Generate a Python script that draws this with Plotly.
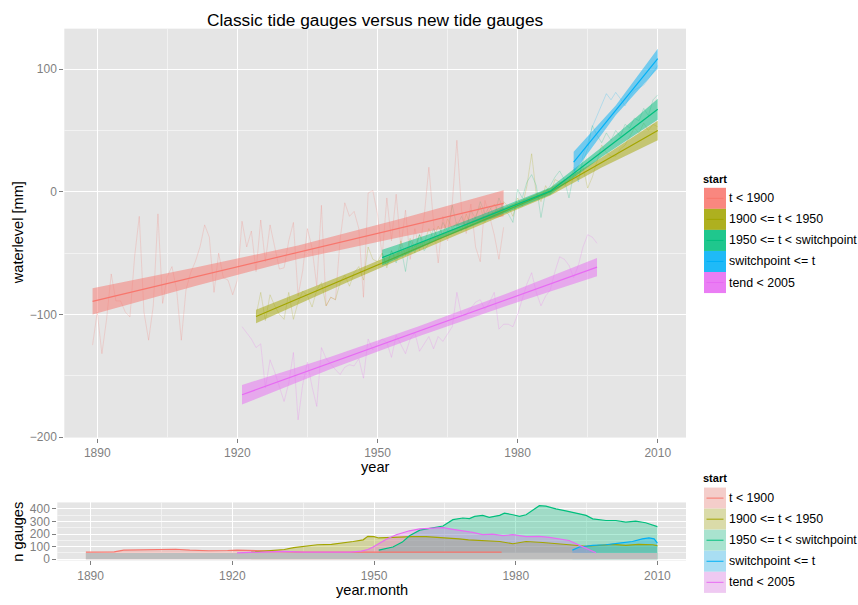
import plotly.graph_objects as go

# ---------------------------------------------------------------- data
categories = ["t < 1900", "1900 <= t < 1950", "1950 <= t < switchpoint",
              "switchpoint <= t", "tend < 2005"]
colors = ["#F8766D", "#A3A500", "#00BF7D", "#00B0F6", "#E76BF3"]

# annual mean water level per group [mm]
red_years = list(range(1889, 1978))
red_level = [-125, -98, -132, -104, -67, -89, -89, -98, -102, -53,
             -20, -98, -121, -93, -18, -91, -69, -61, -80, -121,
             -80, -66, -57, -45, -27, -37, -82, -50, -70, -72,
             -84, -72, -24, -45, -32, -65, -23, -57, -27, -45,
             -63, -62, -40, -25, -85, -64, -30, -46, -77, -11,
             -93, -86, -88, -39, -9, -20, -16, -30, -86, -1,
             1, -18, -53, -5, -40, -2, -45, -15, -55, -30,
             -48, -20, 20, -25, -58, -20, -40, -10, 42, -15,
             -34, -10, -45, -57, -7, -20, -35, -55, -29]

olive_years = list(range(1924, 2011))
olive_level = [-101, -82, -105, -84, -93, -100, -104, -82, -104, -90,
               -81, -85, -94, -80, -74, -93, -86, -88, -74, -68,
               -77, -66, -61, -72, -45, -55, -57, -50, -62, -48,
               -55, -40, -52, -38, -45, -35, -42, -30, -38, -28,
               -35, -22, -30, -25, -32, -18, -28, -20, -12, -25,
               -15, -10, -18, -8, -12, -20, -5, -12, 5, 31,
               -2, -8, 5, -2, 10, 8, 5, 9, 18, 15,
               20, 3, 12, 25, 38, 32, 29, 29, 35, 38,
               45, 52, 48, 56, 50, 55, 53]

green_years = list(range(1951, 2011))
green_level = [-50, -60, -48, -58, -45, -65, -40, -50, -35, -48,
               -42, -30, -38, -25, -32, -11, -28, -20, -30, -15,
               -22, -8, -18, -12, -20, -5, -15, -18, -25, 2,
               -5, 8, 14, 5, -21, 0, 5, 12, 17, 10,
               -5, 15, 10, 25, 35, 54, 46, 40, 48, 42,
               50, 45, 55, 52, 60, 58, 68, 62, 75, 79]

cyan_years = list(range(1992, 2011))
cyan_level = [20, 8, 30, 40, 53, 62, 70, 80, 75, 81,
              76, 70, 78, 83, 85, 87, 92, 97, 103]

magenta_years = list(range(1921, 1998))
magenta_level = [-110, -115, -120, -127, -124, -160, -137, -147, -160, -171,
                 -156, -131, -186, -157, -139, -159, -175, -127, -136, -141,
                 -145, -149, -143, -141, -142, -136, -152, -120, -129, -124,
                 -120, -123, -135, -117, -125, -132, -120, -115, -130, -124,
                 -118, -128, -118, -122, -116, -110, -82, -101, -100, -95,
                 -90, -88, -96, -90, -82, -112, -108, -108, -110, -100,
                 -88, -75, -66, -82, -93, -85, -80, -65, -53, -55,
                 -60, -70, -60, -45, -35, -37, -42]

# fitted trend with confidence band [mm]
red_fit_years = [1889, 1911, 1933, 1955, 1977]
red_fit = [-89.3, -69.3, -49.3, -29.4, -9.4]
red_lo = [-100.0, -76.8, -54.8, -36.9, -20.0]
red_hi = [-78.6, -61.8, -43.8, -21.9, 1.2]

olive_fit_years = [1924, 1945, 1966, 1987, 1998, 2010]
olive_fit = [-101.7, -67.8, -33.8, 0.0, 23.9, 50.0]
olive_lo = [-107.2, -71.3, -36.8, -3.0, 19.9, 42.0]
olive_hi = [-96.2, -64.3, -30.8, 3.0, 27.9, 58.0]

green_fit_years = [1951, 1963, 1975, 1987, 1998, 2010]
green_fit = [-53.7, -35.7, -17.6, 0.5, 32.4, 67.3]
green_lo = [-60.2, -39.2, -20.6, -2.5, 28.4, 58.8]
green_hi = [-47.2, -32.2, -14.6, 3.5, 36.4, 75.8]

cyan_fit_years = [1992, 2001, 2010]
cyan_fit = [24.1, 66.3, 108.6]
cyan_lo = [15.6, 62.3, 100.6]
cyan_hi = [32.6, 70.3, 116.6]

magenta_fit_years = [1921, 1940, 1959, 1978, 1997]
magenta_fit = [-165.5, -139.5, -113.5, -87.5, -61.4]
magenta_lo = [-173.5, -144.5, -117.5, -92.5, -68.9]
magenta_hi = [-157.5, -134.5, -109.5, -82.5, -53.9]

# number of gauges per group
red_n_years = [1889, 1895, 1897, 1903, 1908, 1911, 1915, 1919, 1921, 1925,
               1930, 1935, 1945, 1955, 1965, 1977]
red_n = [56, 59, 72, 79, 79, 72, 67, 69, 72, 68, 60, 56, 56, 56, 56, 56]

olive_n_years = [1924, 1928, 1931, 1933, 1936, 1938, 1941, 1943.5, 1945.6, 1947.7,
                 1948.7, 1950, 1951, 1954, 1956, 1958, 1961, 1964.6, 1968, 1970,
                 1973.7, 1976.6, 1979.4, 1982.2, 1985.7, 1989.2, 1992, 1995, 1997.7,
                 2000.5, 2003.3, 2006, 2009, 2010]
olive_n = [56, 67, 77, 92, 103, 115, 118, 128, 141, 154,
           182, 179, 169, 174, 179, 179, 179, 172, 162, 154,
           149, 141, 123, 141, 133, 123, 115, 103, 110,
           118, 110, 118, 115, 108]

green_n_years = [1951, 1954, 1956, 1957.5, 1959.7, 1961.8, 1964.6, 1966.7, 1968.8, 1970.2,
                 1971.3, 1973, 1974.4, 1976.6, 1977.6, 1979.4, 1980.8, 1982.2, 1983.6, 1985,
                 1986.4, 1988.5, 1990.6, 1992.8, 1994.9, 1996.3, 1999.1, 2001.2, 2003.3,
                 2005.4, 2007.5, 2010]
green_n = [72, 97, 136, 187, 231, 246, 264, 315, 328, 323,
           341, 349, 333, 349, 367, 354, 341, 354, 392, 426,
           423, 400, 385, 367, 349, 321, 308, 308, 295,
           303, 290, 259]

cyan_n_years = [1992, 1993.5, 1996.3, 1999.1, 2001.9, 2004.7, 2006.8, 2008.2, 2009.3, 2010]
cyan_n = [72, 97, 110, 115, 128, 141, 162, 169, 162, 128]

magenta_n_years = [1921, 1925, 1931, 1935, 1939, 1945, 1947.3, 1948.7, 1949.8, 1952.6,
                   1954.7, 1957.5, 1959.7, 1962.5, 1964.6, 1966.7, 1968.8, 1970.9, 1973,
                   1975.1, 1977.3, 1979.4, 1982.2, 1985, 1987.1, 1989.2, 1991.3, 1993.5,
                   1995.6, 1997]
magenta_n = [51, 56, 62, 56, 56, 56, 64, 77, 97, 159,
             195, 226, 241, 246, 251, 238, 226, 213, 195,
             200, 187, 195, 179, 182, 174, 162, 149, 110,
             77, 51]

base_n_years = [1889, 2010]
base_n = [50, 50]

top_xticks = [1890, 1920, 1950, 1980, 2010]
minor_xticks = [1905, 1935, 1965, 1995]
top_yticks = [-200, -100, 0, 100]
top_minor_yticks = [-150, -50, 50]
bottom_yticks = [0, 100, 200, 300, 400]
bottom_minor_yticks = [50, 150, 250, 350]

# ---------------------------------------------------------------- helpers
W, H = 858, 605
FONT = "Liberation Sans, Arial, Helvetica, sans-serif"


def rgba(hex_color, a):
    h = hex_color.lstrip("#")
    r, g, b = int(h[0:2], 16), int(h[2:4], 16), int(h[4:6], 16)
    return f"rgba({r},{g},{b},{a})"


def px(x):
    return x / W


def py(y):
    return 1 - y / H


series = [
    (red_years, red_level, red_fit_years, red_fit, red_lo, red_hi, red_n_years, red_n),
    (olive_years, olive_level, olive_fit_years, olive_fit, olive_lo, olive_hi, olive_n_years, olive_n),
    (green_years, green_level, green_fit_years, green_fit, green_lo, green_hi, green_n_years, green_n),
    (cyan_years, cyan_level, cyan_fit_years, cyan_fit, cyan_lo, cyan_hi, cyan_n_years, cyan_n),
    (magenta_years, magenta_level, magenta_fit_years, magenta_fit, magenta_lo, magenta_hi,
     magenta_n_years, magenta_n),
]

fig = go.Figure()

# ---------------------------------------------------------------- top panel
for (yrs, lvl, fy, fv, lo, hi, _, _), col in zip(series, colors):
    fig.add_trace(go.Scatter(x=yrs, y=lvl, mode="lines", xaxis="x", yaxis="y",
                             line=dict(color=rgba(col, 0.22), width=1),
                             hoverinfo="skip", showlegend=False))
for (yrs, lvl, fy, fv, lo, hi, _, _), col in zip(series, colors):
    fig.add_trace(go.Scatter(x=fy + fy[::-1], y=hi + lo[::-1], mode="lines",
                             xaxis="x", yaxis="y", fill="toself",
                             fillcolor=rgba(col, 0.5), line=dict(width=0),
                             hoverinfo="skip", showlegend=False))
    fig.add_trace(go.Scatter(x=fy, y=fv, mode="lines", xaxis="x", yaxis="y",
                             line=dict(color=col, width=1.2),
                             hoverinfo="skip", showlegend=False))

# ---------------------------------------------------------------- bottom panel
for (_, _, _, _, _, _, ny, nv), col in zip(series, colors):
    fig.add_trace(go.Scatter(x=ny, y=nv, mode="lines", xaxis="x2", yaxis="y2",
                             fill="tozeroy", fillcolor=rgba(col, 0.3),
                             line=dict(width=0), hoverinfo="skip", showlegend=False))
fig.add_trace(go.Scatter(x=base_n_years, y=base_n, mode="lines", xaxis="x2", yaxis="y2",
                         fill="tozeroy", fillcolor="#BEBEBE", line=dict(width=0),
                         hoverinfo="skip", showlegend=False))
for (_, _, _, _, _, _, ny, nv), col in zip(series, colors):
    fig.add_trace(go.Scatter(x=ny, y=nv, mode="lines", xaxis="x2", yaxis="y2",
                             line=dict(color=col, width=1.2),
                             hoverinfo="skip", showlegend=False))

# ---------------------------------------------------------------- axes
tick_font = dict(family=FONT, size=12, color="#7F7F7F")
common = dict(showgrid=True, gridcolor="#FFFFFF", gridwidth=1.3, zeroline=False,
              showline=False, ticks="outside", ticklen=4, tickwidth=1,
              tickcolor="#7F7F7F", tickfont=tick_font, tickmode="array")
minor_style = dict(tickmode="array", showgrid=True, gridcolor="#F2F2F2", gridwidth=0.8)
x_range = [1882.95, 2016.05]

fig.update_layout(
    xaxis=dict(domain=[px(64.3), px(686)], range=x_range, anchor="y",
               tickvals=top_xticks, minor=dict(tickvals=minor_xticks, **minor_style),
               **common),
    yaxis=dict(domain=[py(442.7), py(29)], range=[-200.4, 133], anchor="x",
               tickvals=top_yticks, minor=dict(tickvals=top_minor_yticks, **minor_style),
               **common),
    xaxis2=dict(domain=[px(57.3), px(686)], range=x_range, anchor="y2",
                tickvals=top_xticks, minor=dict(tickvals=minor_xticks, **minor_style),
                **common),
    yaxis2=dict(domain=[py(567), py(508.3)], range=[-10, 452], anchor="x2",
                tickvals=bottom_yticks, minor=dict(tickvals=bottom_minor_yticks, **minor_style),
                **common),
    width=W, height=H,
    margin=dict(l=0, r=0, t=0, b=0),
    paper_bgcolor="#FFFFFF",
    plot_bgcolor="#E5E5E5",
    font=dict(family=FONT, color="#000000"),
    showlegend=False,
)

# ---------------------------------------------------------------- titles
ann = []


def text(x, y, s, size, anchor="center", angle=0, bold=False):
    ann.append(dict(x=px(x), y=py(y), xref="paper", yref="paper",
                    text=f"<b>{s}</b>" if bold else s,
                    showarrow=False, xanchor=anchor, yanchor="middle", textangle=angle,
                    borderpad=0,
                    font=dict(family=FONT, size=size, color="#000000")))


text(375.3, 20.6, "Classic tide gauges versus new tide gauges", 17.3)
text(375.3, 472.5, "year", 14.6)
text(371.6, 596.5, "year.month", 14.6)
text(18, 236, "waterlevel [mm]", 14.6, angle=-90)
text(18, 538, "n gauges", 14.6, angle=-90)

# ---------------------------------------------------------------- legends
shapes = []
key_h = 21.3


def legend(title_y, top, light):
    text(702, title_y, "start", 11, anchor="left", bold=True)
    for i, (lab, col) in enumerate(zip(categories, colors)):
        y0 = top + i * key_h
        y1 = y0 + key_h
        if light:
            shapes.append(dict(type="rect", xref="paper", yref="paper", x0=px(704), x1=px(726),
                               y0=py(y1), y1=py(y0), fillcolor="#F2F2F2", line=dict(width=0)))
            shapes.append(dict(type="rect", xref="paper", yref="paper", x0=px(704), x1=px(726),
                               y0=py(y1), y1=py(y0), fillcolor=rgba(col, 0.3), line=dict(width=0)))
        else:
            shapes.append(dict(type="rect", xref="paper", yref="paper", x0=px(704), x1=px(726),
                               y0=py(y1), y1=py(y0), fillcolor=rgba(col, 0.88), line=dict(width=0)))
        shapes.append(dict(type="line", xref="paper", yref="paper", x0=px(706.5), x1=px(723.5),
                           y0=py((y0 + y1) / 2), y1=py((y0 + y1) / 2),
                           line=dict(color=col, width=1)))
        text(727.5, (y0 + y1) / 2, lab, 12.4, anchor="left")


legend(181, 190, light=False)
legend(483.5, 493.3, light=True)

fig.update_layout(annotations=ann, shapes=shapes)

fig.write_html("out.html")
